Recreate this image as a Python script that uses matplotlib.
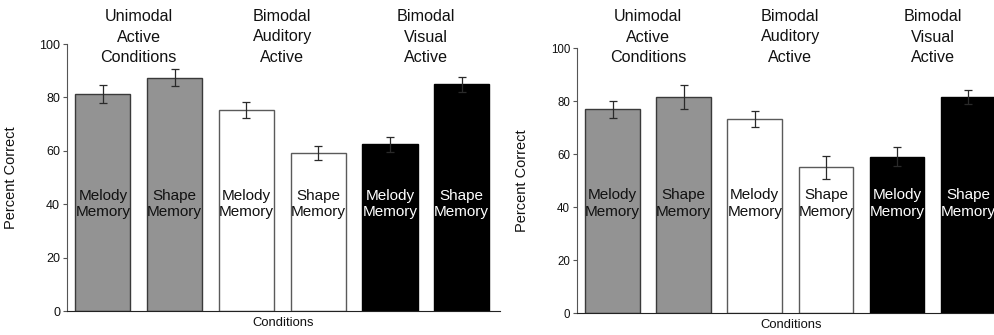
import numpy as np
import matplotlib
matplotlib.use('Agg')
import matplotlib.pyplot as plt
import matplotlib.transforms as mtransforms

plt.rcParams['font.family'] = ['Liberation Sans', 'DejaVu Sans']

# bar labels / group headers
bar_labels = ['Melody\nMemory', 'Shape\nMemory'] * 3
group_labels = ['Unimodal\nActive\nConditions', 'Bimodal\nAuditory\nActive', 'Bimodal\nVisual\nActive']
yticks = [0, 20, 40, 60, 80, 100]

# left panel
left_vals = [81.4, 87.4, 75.3, 59.1, 62.4, 84.9]
left_err = [3.4, 3.3, 3.0, 2.6, 2.8, 2.7]
# right panel
right_vals = [77.0, 81.6, 73.3, 55.1, 59.1, 81.6]
right_err = [3.2, 4.6, 3.0, 4.3, 3.5, 2.8]

face = ['#939393', '#939393', 'white', 'white', 'black', 'black']
edge = ['#3a3a3a', '#3a3a3a', '#5a5a5a', '#5a5a5a', 'black', 'black']
txtcol = ['#111111', '#111111', '#111111', '#111111', 'white', 'white']

fig = plt.figure(figsize=(9.95, 3.35), dpi=100)


def draw_panel(rect, vals, errs, tick_fs, text_y):
    ax = fig.add_axes(rect)
    x = np.arange(len(vals))
    ax.bar(x, vals, width=0.77, color=face, edgecolor=edge, linewidth=1.0)
    ax.errorbar(x, vals, yerr=errs, fmt='none', ecolor='#2a2a2a',
                elinewidth=0.9, capsize=3, capthick=0.9)
    for i in range(len(vals)):
        ax.text(x[i], text_y, bar_labels[i], ha='center', va='center',
                fontsize=11, color=txtcol[i], linespacing=1.2)
    trans = mtransforms.blended_transform_factory(ax.transData, fig.transFigure)
    for g in range(3):
        ax.text(2 * g + 0.5, 1 - 37 / 335., group_labels[g], ha='center',
                va='center', fontsize=11.6, color='#111111',
                linespacing=1.42, transform=trans)
    ax.set_xlim(-0.5, 5.53)
    ax.set_ylim(0, 100)
    ax.set_yticks(yticks)
    ax.set_xticks([])
    ax.spines['top'].set_visible(False)
    ax.spines['right'].set_visible(False)
    ax.spines['left'].set_color('#555555')
    ax.spines['bottom'].set_color('#222222')
    ax.tick_params(axis='y', length=3, width=0.8, colors='#555555',
                   labelcolor='#111111', labelsize=tick_fs, pad=2)
    ax.set_ylabel('Percent Correct', fontsize=10.5, color='#111111')
    ax.yaxis.set_label_coords(-0.112, 0.5)
    ax.set_xlabel('Conditions', fontsize=9.4, color='#111111')
    ax.xaxis.label.set_va('center')
    ax.xaxis.set_label_coords(0.5, -0.045)
    return ax


draw_panel([0.0673, 0.0716, 0.435, 0.797], left_vals, left_err, 9, 40)
draw_panel([0.5799, 0.0648, 0.431, 0.791], right_vals, right_err, 8.3, 41.4)

plt.savefig('out.png', dpi=100)
